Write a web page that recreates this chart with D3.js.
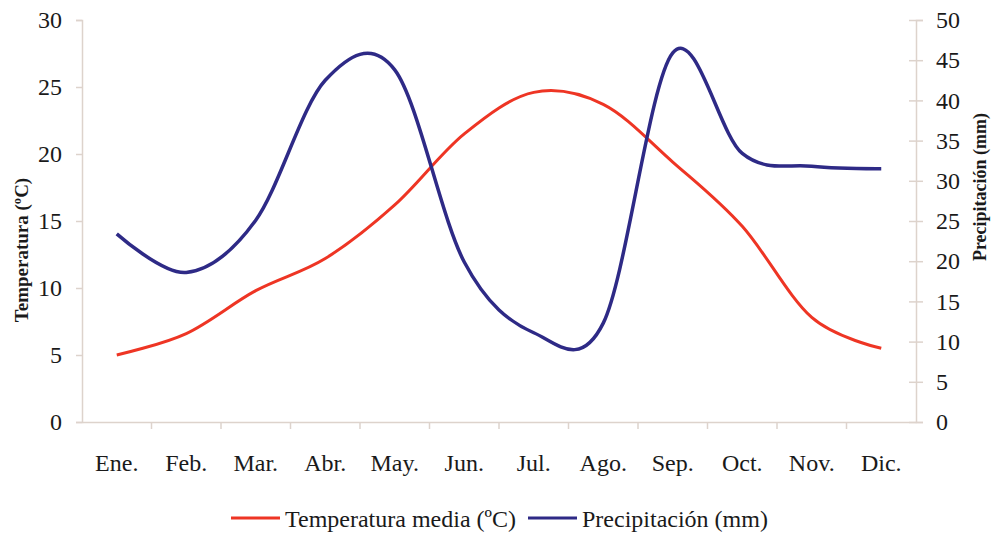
<!DOCTYPE html>
<html><head><meta charset="utf-8">
<script src="https://cdn.jsdelivr.net/npm/d3@7"></script>
<style>body{margin:0;background:#fff}svg{display:block}</style>
</head><body>
<script>
const months = ["Ene.","Feb.","Mar.","Abr.","May.","Jun.","Jul.","Ago.","Sep.","Oct.","Nov.","Dic."];
const temperatura = [5.0, 6.6, 9.8, 12.2, 16.2, 21.5, 24.6, 23.7, 19.4, 14.6, 7.8, 5.5];
const precipitacion = [23.4, 18.6, 25.1, 42.5, 43.8, 19.9, 11.1, 12.3, 45.9, 33.4, 31.8, 31.5];
const tempTicks = [0,5,10,15,20,25,30];
const precTicks = [0,5,10,15,20,25,30,35,40,45,50];

const W = 992, H = 535;
const L = 82, R = 916, T = 20, B = 422;
const axisColor = "#ddd3cc";
const font = "'Liberation Serif','Times New Roman',serif";
const txt = "#1a1a1a";

const svg = d3.select("body").append("svg").attr("width", W).attr("height", H)
  .style("font-family", font);

const x = d3.scaleBand().domain(months).range([L, R]).padding(0);
const yT = d3.scaleLinear().domain([0,30]).range([B, T]);
const yP = d3.scaleLinear().domain([0,50]).range([B, T]);

// left axis
const gl = svg.append("g").attr("transform", `translate(${L},0)`)
  .call(d3.axisLeft(yT).tickValues(tempTicks).tickSize(6).tickPadding(14));
gl.select(".domain").attr("stroke", axisColor).attr("stroke-width", 1.5);
gl.selectAll(".tick line").attr("stroke", axisColor).attr("stroke-width", 1.5);
gl.selectAll(".tick text").attr("fill", txt).style("font-size", "24px").style("font-family", font);

// right axis
const gr = svg.append("g").attr("transform", `translate(${R},0)`)
  .call(d3.axisRight(yP).tickValues(precTicks).tickSize(7).tickPadding(13));
gr.select(".domain").attr("stroke", axisColor).attr("stroke-width", 1.5);
gr.selectAll(".tick line").attr("stroke", axisColor).attr("stroke-width", 1.5).attr("x1", -7);
gr.selectAll(".tick text").attr("fill", txt).style("font-size", "24px").style("font-family", font);

// bottom axis
const gb = svg.append("g").attr("transform", `translate(0,${B})`)
  .call(d3.axisBottom(x).tickSize(0).tickPadding(32));
gb.select(".domain").attr("stroke", axisColor).attr("stroke-width", 1.5);
gb.selectAll(".tick text").attr("fill", txt).style("font-size", "24px").style("font-family", font);
// boundary tick marks between categories
const bounds = months.slice(1).map(m => x(m));
gb.selectAll(".bnd").data(bounds).enter().append("line")
  .attr("x1", d => d).attr("x2", d => d).attr("y1", 0).attr("y2", 7)
  .attr("stroke", axisColor).attr("stroke-width", 1.5);

// axis titles
svg.append("text").attr("transform", `translate(28,250) rotate(-90)`)
  .attr("text-anchor", "middle").style("font-size", "19px").style("font-weight", "bold")
  .attr("fill", txt).text("Temperatura (ºC)");
svg.append("text").attr("transform", `translate(986,187) rotate(-90)`)
  .attr("text-anchor", "middle").style("font-size", "18px").style("font-weight", "bold")
  .attr("fill", txt).text("Precipitación (mm)");

const cx = m => x(m) + x.bandwidth()/2;
const lineT = d3.line().x((d,i) => cx(months[i])).y(d => yT(d)).curve(d3.curveCardinal.tension(0));
const lineP = d3.line().x((d,i) => cx(months[i])).y(d => yP(d)).curve(d3.curveCardinal.tension(0));

const red = "#ee3524", blue = "#2e2a86";
svg.append("path").attr("d", lineT(temperatura)).attr("fill","none").attr("stroke", red).attr("stroke-width", 3).attr("stroke-linejoin","round");
svg.append("path").attr("d", lineP(precipitacion)).attr("fill","none").attr("stroke", blue).attr("stroke-width", 3.5).attr("stroke-linejoin","round");

// legend
const legend = [
  {label: "Temperatura media (ºC)", color: red, x0: 231},
  {label: "Precipitación (mm)", color: blue, x0: 528}
];
const lg = svg.append("g");
legend.forEach(d => {
  lg.append("line").attr("x1", d.x0).attr("x2", d.x0 + 49).attr("y1", 518).attr("y2", 518)
    .attr("stroke", d.color).attr("stroke-width", 3);
  lg.append("text").attr("x", d.x0 + 54).attr("y", 527).style("font-size", "24px")
    .attr("fill", txt).text(d.label);
});
</script>
</body></html>
